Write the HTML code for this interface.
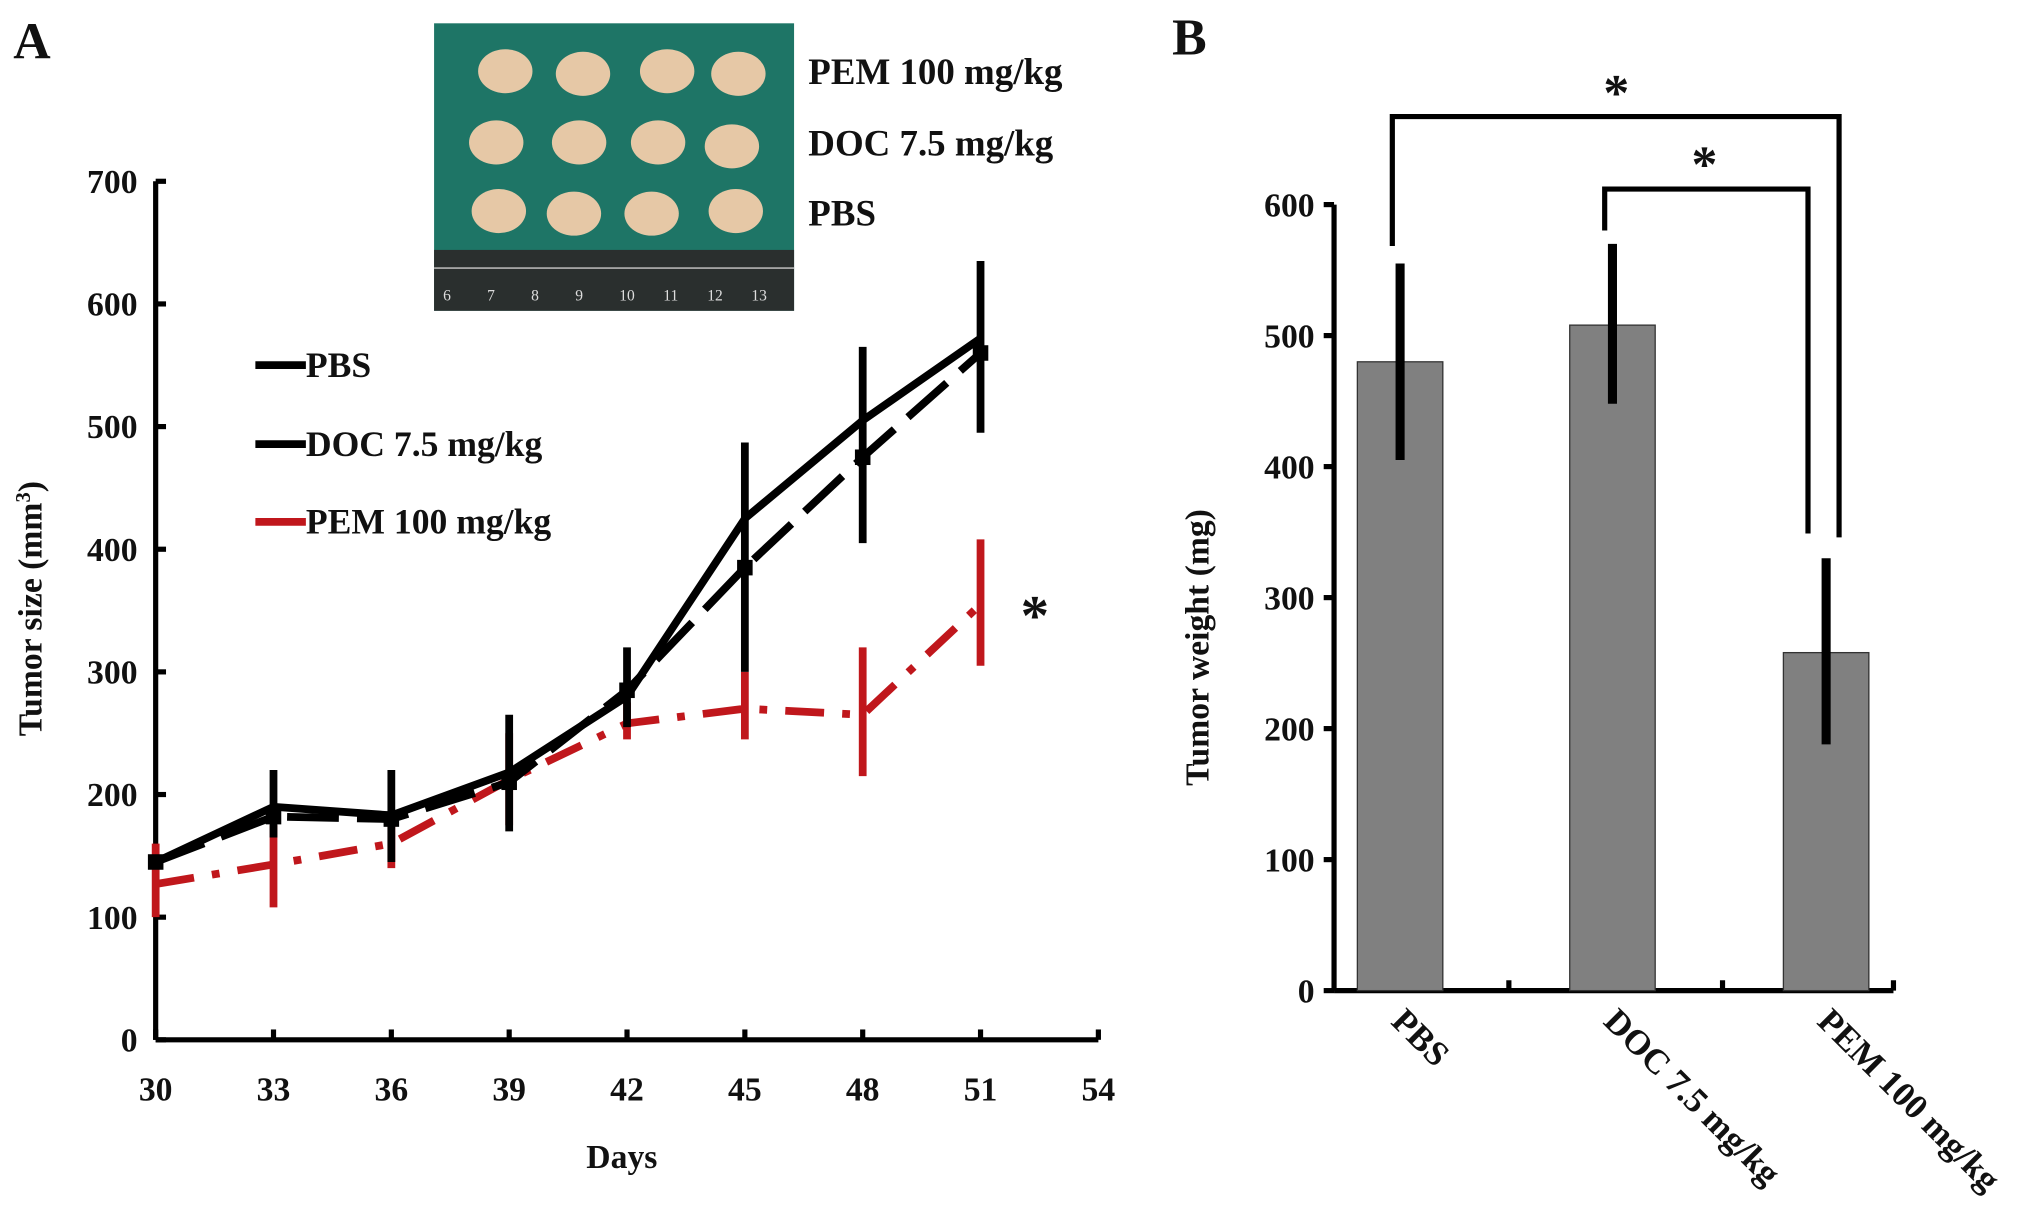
<!DOCTYPE html>
<html><head><meta charset="utf-8"><style>
html,body{margin:0;padding:0;background:#fff}
svg{display:block}
text{font-family:"Liberation Serif",serif;font-weight:bold;fill:#111}
</style></head><body>
<svg id="fig" width="2031" height="1225" viewBox="0 0 1568 946" xmlns="http://www.w3.org/2000/svg">
<text x="10" y="45" font-size="40">A</text>
<text x="905" y="42" font-size="40">B</text>
<g id="photo">
<rect x="335" y="18" width="278" height="222" fill="#1e7566"/>
<rect x="335" y="193" width="278" height="47" fill="#2a2f2e"/>
</g>
<text x="624" y="65" font-size="28.5">PEM 100 mg/kg</text>
<text x="624" y="120" font-size="28.5">DOC 7.5 mg/kg</text>
<text x="624" y="174" font-size="28.5">PBS</text>
<g id="chartA"></g>
<g id="chartB"></g>
</svg>
<script>
const days=[30,33,36,39,42,45,48,51];
const pbsMean=[145,190,183,218,280,425,505,572];
const pbsLow=[140,165,145,170,255,300,405,495];
const pbsHigh=[150,220,220,265,320,487,565,635];
const docMean=[145,182,180,210,285,385,475,560];
const pemMean=[127,143,160,212,258,270,265,355];
const pemLow=[100,108,140,175,245,245,215,305];
const pemHigh=[160,175,185,250,275,300,320,408];
const xTicksA=[30,33,36,39,42,45,48,51,54];
const yTicksA=[0,100,200,300,400,500,600,700];
const barCats=["PBS","DOC 7.5 mg/kg","PEM 100 mg/kg"];
const barVals=[480,508,258];
const barLow=[405,448,188];
const barHigh=[555,570,330];
const yTicksB=[0,100,200,300,400,500,600];

const NS="http://www.w3.org/2000/svg";
function el(tag,attrs,parent,txt){const e=document.createElementNS(NS,tag);for(const k in attrs)e.setAttribute(k,attrs[k]);if(txt!==undefined)e.textContent=txt;parent.appendChild(e);return e;}
const ph=document.getElementById('photo');
[[390,55],[450,57],[515,55],[570,57],[383,110],[447,110],[508,110],[565,113],[385,163],[443,165],[503,165],[568,163]].forEach((p,i)=>{const b=el('ellipse',{cx:p[0],cy:p[1],rx:21,ry:17,fill:'#e6c8a6'},ph);});
for(let i=0;i<8;i++){const t=el('text',{x:342+i*34,y:232,'font-size':12,style:'fill:#ddd;font-weight:normal'},ph,String(6+i));}
el('line',{x1:335,y1:207,x2:613,y2:207,stroke:'#ccc','stroke-width':1},ph);

const A=document.getElementById('chartA');
const xA=d=>120+(d-30)*(728/24), yA=v=>803-v*(663/700);
let ax=el('line',{x1:120,y1:803,x2:848,y2:803,stroke:'#000','stroke-width':4},A);
let ay=el('line',{x1:120,y1:803,x2:120,y2:140,stroke:'#000','stroke-width':4},A);
xTicksA.forEach(d=>{el('line',{x1:xA(d),y1:803,x2:xA(d),y2:795,stroke:'#000','stroke-width':4},A);const t=el('text',{x:xA(d),y:850,'font-size':26,'text-anchor':'middle'},A,d);});
yTicksA.forEach(v=>{el('line',{x1:120,y1:yA(v),x2:128,y2:yA(v),stroke:'#000','stroke-width':4},A);const t=el('text',{x:106,y:yA(v)+9,'font-size':26,'text-anchor':'end'},A,v);});
let xt=el('text',{x:480,y:902,'font-size':26,'text-anchor':'middle'},A,'Days');
let yt=el('text',{x:32,y:470,'font-size':26,'text-anchor':'middle',transform:'rotate(-90 32 470)'},A);
yt.innerHTML='Tumor size (mm<tspan dy="-9" font-size="16">3</tspan><tspan dy="9">)</tspan>';
function series(m,col,dash,name){const pts=days.map((d,i)=>xA(d)+','+yA(m[i])).join(' ');const p=el('polyline',{points:pts,fill:'none',stroke:col,'stroke-width':6,'stroke-dasharray':dash},A);}
function errs(lo,hi,col,name){days.forEach((d,i)=>{const e=el('line',{x1:xA(d),y1:yA(lo[i]),x2:xA(d),y2:yA(hi[i]),stroke:col,'stroke-width':6},A);});}
series(pemMean,'#c0171c','30 14 6 14','pem-line');
errs(pemLow,pemHigh,'#c0171c','pem-error-bar');
series(docMean,'#000','40 14','doc-line');
series(pbsMean,'#000','','pbs-line');
errs(pbsLow,pbsHigh,'#000','pbs-error-bar');
days.forEach((d,i)=>{const s=el('rect',{x:xA(d)-6,y:yA(docMean[i])-6,width:12,height:12,fill:'#000'},A);});
let st=el('text',{x:788,y:490,'font-size':44,'text-anchor':'start'},A,'*');
[['PBS','#000',282],['DOC 7.5 mg/kg','#000',343],['PEM 100 mg/kg','#c0171c',403]].forEach((l,i)=>{const g=el('g',{},A);el('line',{x1:197,y1:l[2],x2:236,y2:l[2],stroke:l[1],'stroke-width':6},g);el('text',{x:236,y:l[2]+9,'font-size':27.5},g,l[0]);});

const B=document.getElementById('chartB');
const yB=v=>765-v*(607/600);
const cx=[1081,1245,1410];
let bx=el('line',{x1:1030,y1:765,x2:1462,y2:765,stroke:'#000','stroke-width':4},B);
let by=el('line',{x1:1030,y1:765,x2:1030,y2:158,stroke:'#000','stroke-width':4},B);
yTicksB.forEach(v=>{el('line',{x1:1022,y1:yB(v),x2:1030,y2:yB(v),stroke:'#000','stroke-width':4},B);const t=el('text',{x:1015,y:yB(v)+9,'font-size':26,'text-anchor':'end'},B,v);});
[1165,1330,1462].forEach(x=>el('line',{x1:x,y1:757,x2:x,y2:765,stroke:'#000','stroke-width':4},B));
let byt=el('text',{x:933,y:500,'font-size':26,'text-anchor':'middle',transform:'rotate(-90 933 500)'},B,'Tumor weight (mg)');
barCats.forEach((c,i)=>{
 const r=el('rect',{x:cx[i]-33,y:yB(barVals[i]),width:66,height:765-yB(barVals[i]),fill:'#808080',stroke:'#333','stroke-width':1},B);
 const e=el('line',{x1:cx[i],y1:yB(barLow[i]),x2:cx[i],y2:yB(barHigh[i]),stroke:'#000','stroke-width':7},B);
 const t=el('text',{x:cx[i]-8,y:790,'font-size':27,transform:'rotate(45 '+(cx[i]-8)+' 790)'},B,c);
});
let b1=el('polyline',{points:'1075,190 1075,90 1420,90 1420,415',fill:'none',stroke:'#000','stroke-width':4},B);
let b2=el('polyline',{points:'1239,178 1239,146 1396,146 1396,412',fill:'none',stroke:'#000','stroke-width':4},B);
let s1=el('text',{x:1248,y:85,'font-size':40,'text-anchor':'middle'},B,'*');
let s2=el('text',{x:1316,y:140,'font-size':40,'text-anchor':'middle'},B,'*');
</script>
</body></html>
